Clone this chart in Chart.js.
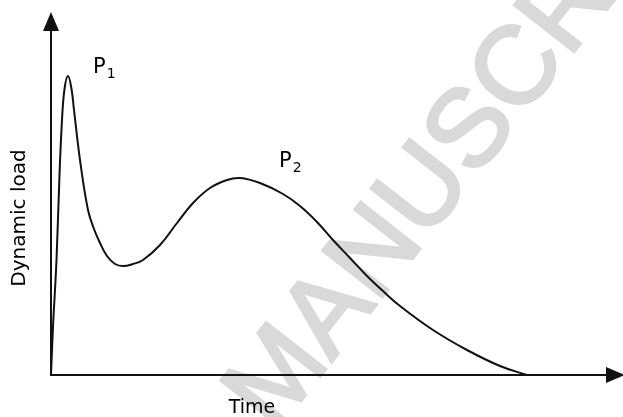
<!DOCTYPE html>
<html>
<head>
<meta charset="utf-8">
<script src="https://cdn.jsdelivr.net/npm/chart.js@4/dist/chart.umd.min.js"></script>
<style>
  html, body { margin: 0; padding: 0; background: #fff; }
  #wrap { width: 623px; height: 417px; position: relative; }
</style>
</head>
<body>
<div id="wrap"><canvas id="myChart"></canvas></div>
<script>
// curve (arbitrary units, time and load)
const timeValues = [0, 2, 5.5, 8.5, 11, 13.5, 17, 20.5, 23, 29, 37, 43, 49, 56, 64, 72, 82, 92, 109, 126, 142, 159, 176, 189, 209, 232, 249, 266, 282, 299, 316, 333, 349, 382, 416, 449, 476];
const loadValues = [0, 48, 115, 200, 255, 286, 299, 286, 265, 215, 165, 146, 132, 119, 111, 109, 111, 115, 130, 152, 172, 187, 195, 197, 192, 181, 169, 153, 135, 117, 99, 83, 69, 45, 25, 9, 0];

// peak labels: [text, subscript, index of the point they belong to]
const peakLabels = [["P", "1", 6], ["P", "2", 23]];

const xTitle = "Time";
const yTitle = "Dynamic load";
const watermark = "MANUSCRIPT";

const points = timeValues.map((t, i) => ({ x: t, y: loadValues[i] }));

// axes with arrow heads, titles, peak labels
const decorations = {
  id: "decorations",
  beforeDatasetsDraw(chart) {
    const ctx = chart.ctx;
    const size = 110;
    ctx.save();
    ctx.font = size + "px 'Liberation Sans', Arial, sans-serif";
    // anchor on the middle of the "S"
    const before = ctx.measureText("MANU").width + ctx.measureText("S").width / 2;
    ctx.translate(466, 126);
    ctx.rotate(-52 * Math.PI / 180);
    ctx.fillStyle = "#d9d9d9";
    ctx.strokeStyle = "#d9d9d9";
    ctx.lineWidth = 3;
    ctx.textAlign = "left";
    ctx.textBaseline = "alphabetic";
    ctx.fillText(watermark, -before, size * 0.716 / 2);
    ctx.strokeText(watermark, -before, size * 0.716 / 2);
    ctx.restore();
  },
  afterDatasetsDraw(chart) {
    const ctx = chart.ctx;
    const x = chart.scales.x;
    const y = chart.scales.y;
    const x0 = x.getPixelForValue(0);
    const y0 = y.getPixelForValue(0);
    const area = chart.chartArea;

    ctx.save();
    ctx.strokeStyle = "#111";
    ctx.fillStyle = "#111";
    ctx.lineWidth = 2;
    ctx.beginPath();
    ctx.moveTo(x0, y0);
    ctx.lineTo(x0, area.top + 10);
    ctx.moveTo(x0 - 1, y0);
    ctx.lineTo(area.right - 10, y0);
    ctx.stroke();

    // y arrow
    ctx.beginPath();
    ctx.moveTo(x0, area.top);
    ctx.lineTo(x0 - 8, area.top + 19);
    ctx.lineTo(x0 + 8, area.top + 19);
    ctx.closePath();
    ctx.fill();
    // x arrow
    ctx.beginPath();
    ctx.moveTo(area.right + 2, y0);
    ctx.lineTo(area.right - 17, y0 - 8);
    ctx.lineTo(area.right - 17, y0 + 8);
    ctx.closePath();
    ctx.fill();

    ctx.fillStyle = "#000";
    ctx.font = "19px 'DejaVu Sans', sans-serif";
    ctx.textAlign = "center";
    ctx.textBaseline = "alphabetic";
    ctx.fillText(xTitle, 252, 413);

    ctx.save();
    ctx.translate(25, 218);
    ctx.rotate(-Math.PI / 2);
    ctx.font = "20px 'DejaVu Sans', sans-serif";
    ctx.fillText(yTitle, 0, 0);
    ctx.restore();

    // peak labels sit up and to the right of their peak
    ctx.textAlign = "left";
    peakLabels.forEach(([txt, sub, idx], k) => {
      const px = x.getPixelForValue(timeValues[idx]);
      const py = y.getPixelForValue(loadValues[idx]);
      const lx = k === 0 ? px + 25 : px + 39;
      const ly = k === 0 ? py - 3 : py - 11;
      ctx.font = "21px 'DejaVu Sans', sans-serif";
      ctx.fillText(txt, lx, ly);
      const w = ctx.measureText(txt).width;
      ctx.font = "14px 'DejaVu Sans', sans-serif";
      ctx.fillText(sub, lx + w + 1, ly + 5);
    });
    ctx.restore();
  }
};

new Chart(document.getElementById("myChart"), {
  type: "line",
  data: {
    datasets: [{
      data: points,
      borderColor: "#111",
      borderWidth: 2,
      pointRadius: 0,
      tension: 0.4,
      fill: false
    }]
  },
  options: {
    responsive: true,
    maintainAspectRatio: false,
    animation: false,
    layout: { padding: { left: 51, right: 0, top: 12, bottom: 42 } },
    plugins: { legend: { display: false }, tooltip: { enabled: false } },
    scales: {
      x: { type: "linear", min: 0, max: 572, display: false },
      y: { min: 0, max: 363, display: false }
    }
  },
  plugins: [decorations]
});
</script>
</body>
</html>
